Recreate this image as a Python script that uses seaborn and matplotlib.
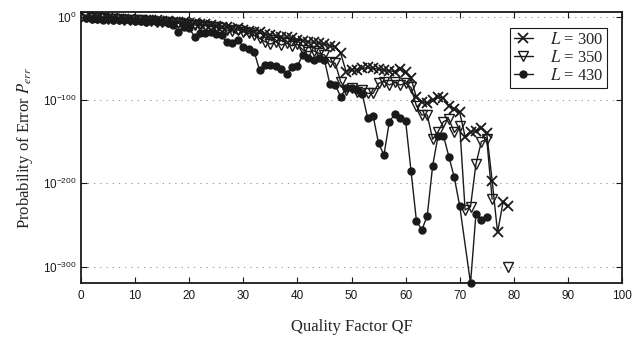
import numpy as np
import pandas as pd
import matplotlib
matplotlib.use("Agg")
import matplotlib.pyplot as plt
from matplotlib.ticker import FuncFormatter
import seaborn as sns

# ---- data (log10 of probability of error) ----
qf = list(range(1, 80))

logp_300 = [
    -0.5, -1, -1, -1.5, -2, -2, -2.5, -3, -3, -3.5,
    -3.5, -4, -4.5, -4.5, -5, -5.5, -6, -6, -7, -7.5,
    -8, -9, -9, -10, -11, -12, -13, -15, -14, -16,
    -17, -18, -19, -21, -22, -23, -24, -25, -26, -28,
    -29, -30, -31, -32, -33, -35, -36, -44, -66, -64,
    -64, -62, -61, -62, -63, -64, -65, -66, -63, -67,
    -74, -97, -102, -104, -100, -96, -98, -107, -111, -115,
    -144, -138, -137, -134, -140, -197, -259, -223, -227,
]

logp_350 = [
    -1, -1.5, -2, -2, -2.5, -3, -3, -3.5, -4, -4,
    -4.5, -5, -5.5, -6, -6, -7, -7.5, -8, -9, -9.5,
    -10, -11, -11, -12, -13, -14, -16, -17, -16, -18,
    -20, -22, -26, -30, -33, -30, -34, -32, -35, -33,
    -40, -42, -41, -44, -46, -54, -56, -78, -88, -86,
    -90, -88, -92, -92, -80, -78, -82, -79, -82, -80,
    -85, -107, -118, -118, -147, -138, -126, -123, -139, -131,
    -232, -228, -177, -150, -147, -219, None, None, -300,
]

logp_430 = [
    -2, -3, -2.5, -3.5, -3, -4, -3.5, -4.5, -4, -5,
    -5, -6, -5.5, -7, -6.5, -8, -10, -18, -12, -14,
    -24, -20, -20, -19, -21, -22, -31, -32, -28, -36,
    -39, -42, -64, -58, -58, -59, -63, -69, -60, -59,
    -46, -50, -52, -50, -52, -81, -82, -96, -86, -86,
    -88, -93, -122, -119, -152, -166, -126, -117, -122, -125,
    -185, -245, -256, -239, -179, -143, -143, -168, -193, -227,
    None, -320, -237, -244, -241,
]

labels = ["$L$ = 300", "$L$ = 350", "$L$ = 430"]
yticks = [0, -100, -200, -300]
xticks = list(range(0, 101, 10))

# ---- style ----
sns.set_theme(style="ticks")
plt.rcParams["font.family"] = ["Liberation Sans", "DejaVu Sans"]
plt.rcParams["mathtext.fontset"] = "stix"

fig = plt.figure(figsize=(6.44, 3.39), dpi=100)
ax = fig.add_axes([81 / 644, 1 - 283.3 / 339, 541 / 644, (283.3 - 12) / 339])


def draw(values, marker, label, ms, mfc, mew, connect_gaps):
    df = pd.DataFrame({"QF": qf[:len(values)],
                       "logP": pd.to_numeric(pd.Series(values), errors="coerce")})
    if connect_gaps:
        segments = [df.dropna()]
    else:
        grp = df["logP"].isna().cumsum()
        segments = [s.dropna() for _, s in df.groupby(grp)]
        segments = [s for s in segments if len(s)]
    for i, seg in enumerate(segments):
        kw = dict(color="k", marker=marker, markersize=ms, markerfacecolor=mfc,
                  markeredgecolor="k", markeredgewidth=mew, linewidth=1.0,
                  estimator=None, sort=False, clip_on=False)
        if i == 0:
            kw["label"] = label
        sns.lineplot(data=seg, x="QF", y="logP", ax=ax, **kw)


draw(logp_300, "x", labels[0], 7, "none", 1.3, True)
draw(logp_350, "v", labels[1], 7, "none", 1.0, False)
draw(logp_430, "o", labels[2], 5, "k", 1.0, True)

ax.set_xlim(0, 100)
ax.set_ylim(-320, 5.6)
ax.set_xticks(xticks)
ax.set_yticks(yticks)
ax.yaxis.set_major_formatter(FuncFormatter(lambda v, p: r"$\mathregular{10^{%d}}$" % int(round(v))))
ax.tick_params(direction="in", top=True, right=True, length=4, width=0.8,
               labelsize=8.5, colors="k")
ax.tick_params(axis="x", pad=5)
ax.tick_params(axis="y", pad=3)
for s in ax.spines.values():
    s.set_visible(True)
    s.set_linewidth(1.3)
    s.set_color("k")

ax.yaxis.grid(True, linestyle=(0, (1.5, 6)), color="0.5", linewidth=0.6)
ax.xaxis.grid(False)
ax.set_axisbelow(True)

ax.set_xlabel("Quality Factor QF", family=["Liberation Serif"], fontsize=12, labelpad=12)
ax.set_ylabel("Probability of Error $P_{err}$", family=["Liberation Serif"], fontsize=12,
              labelpad=6)

leg = ax.legend(loc="upper right", bbox_to_anchor=(0.9723, 0.941), frameon=True,
                fancybox=False, edgecolor="k", framealpha=1,
                prop={"family": "Liberation Serif", "size": 12},
                handlelength=1.15, handletextpad=1.0, labelspacing=0.12,
                borderpad=0.25, borderaxespad=0)
leg.get_frame().set_linewidth(0.8)

fig.savefig("out.png", dpi=100)
